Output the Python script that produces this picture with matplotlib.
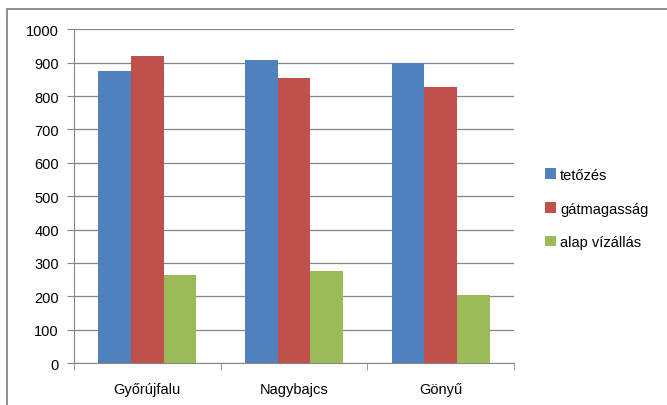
import matplotlib.pyplot as plt
import numpy as np
from matplotlib.patches import Rectangle

plt.rcParams['font.family'] = ['Liberation Sans', 'DejaVu Sans']

# adatok
helyek = ["Győrújfalu", "Nagybajcs", "Gönyű"]
tetozes = [875, 907, 900]
gatmagassag = [920, 853, 826]
alap_vizallas = [263, 276, 204]

sorozatok = ["tetőzés", "gátmagasság", "alap vízállás"]
szinek = ["#4F81BD", "#C0504D", "#9BBB59"]

fig = plt.figure(figsize=(6.67, 4.06), dpi=100)
ax = fig.add_axes([0.111, 0.1034, 0.6596, 0.822])

# keret a diagram körül
fig.patches.append(Rectangle((7 / 667, -0.05), 1.0, 1 - 9.5 / 406 + 0.05,
                             transform=fig.transFigure, fill=False,
                             edgecolor="#868686", linewidth=1.3))

x = np.arange(len(helyek))
w = 0.223
for k, (vals, nev, c) in enumerate(zip([tetozes, gatmagassag, alap_vizallas], sorozatok, szinek)):
    ax.bar(x + (k - 1) * w, vals, width=w, color=c, label=nev, zorder=3)

ax.set_xlim(-0.5, len(helyek) - 0.5)
ax.set_ylim(0, 1000)
ax.set_yticks(range(0, 1001, 100))
ax.yaxis.grid(True, color="#868686", linewidth=0.9, zorder=0)

ax.set_xticks(x)
ax.set_xticklabels(helyek)
ax.set_xticks(np.arange(-0.5, len(helyek)), minor=True)
ax.tick_params(axis="x", which="major", length=0, pad=14, labelsize=10.5, colors="#000000")
ax.tick_params(axis="x", which="minor", length=5, color="#868686")
ax.tick_params(axis="y", length=5, color="#868686", labelsize=10.5, pad=6)

for s in ["top", "right"]:
    ax.spines[s].set_visible(False)
for s in ["left", "bottom"]:
    ax.spines[s].set_color("#868686")

ax.legend(loc="center left", bbox_to_anchor=(1.04, 0.463), frameon=False,
          handlelength=0.75, handleheight=0.75, handletextpad=0.3,
          labelspacing=1.35, fontsize=10.5)

fig.savefig("out.png", dpi=100)
